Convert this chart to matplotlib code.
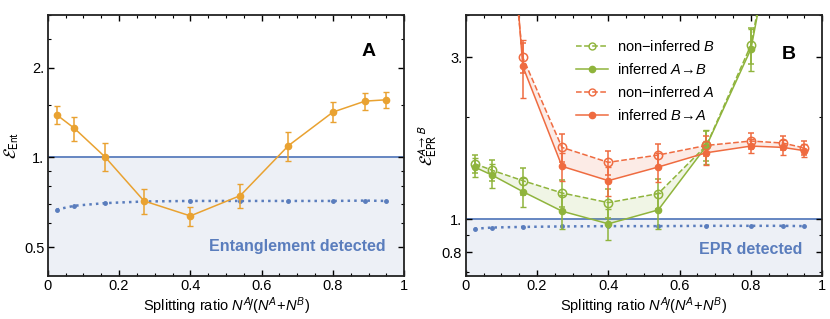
import matplotlib
matplotlib.use("Agg")
import matplotlib.pyplot as plt
from matplotlib.lines import Line2D
from matplotlib.ticker import FixedLocator, FixedFormatter, NullFormatter

plt.rcParams['font.family'] = ['Liberation Sans', 'DejaVu Sans']
plt.rcParams['mathtext.fontset'] = 'custom'
plt.rcParams['mathtext.it'] = 'Liberation Sans:italic'
plt.rcParams['mathtext.rm'] = 'Liberation Sans'

# splitting ratios
x = [0.025, 0.075, 0.16, 0.27, 0.40, 0.54, 0.675, 0.80, 0.89, 0.95]

# panel A: entanglement criterion
ent = [1.389, 1.250, 1.005, 0.714, 0.636, 0.744, 1.094, 1.418, 1.543, 1.559]
ent_err = [0.096, 0.114, 0.108, 0.068, 0.047, 0.067, 0.119, 0.109, 0.097, 0.096]
ent_theory = [0.668, 0.688, 0.702, 0.711, 0.714, 0.714, 0.714, 0.714, 0.716, 0.714]

# panel B: EPR criterion
nonB = [1.458, 1.393, 1.299, 1.195, 1.119, 1.190, 1.650, 3.264, 10.3, 20.0]
nonB_err = [0.09, 0.10, 0.12, 0.11, 0.11, 0.12, 0.17, 0.40, 0, 0]
infAB = [1.425, 1.347, 1.206, 1.056, 0.969, 1.065, 1.643, 3.177, 10.0, 19.0]
infAB_err = [0.09, 0.11, 0.12, 0.12, 0.10, 0.13, 0.19, 0.45, 0, 0]
nonA = [40.0, 22.9, 3.00, 1.628, 1.471, 1.546, 1.650, 1.700, 1.677, 1.621]
nonA_err = [0, 0, 0.30, 0.15, 0.12, 0.12, 0.11, 0.09, 0.08, 0.08]
infBA = [70.0, 41.6, 2.825, 1.432, 1.299, 1.425, 1.570, 1.643, 1.628, 1.592]
infBA_err = [0, 0, 0.55, 0.14, 0.13, 0.14, 0.13, 0.08, 0.08, 0.07]
epr_theory = [0.937, 0.945, 0.949, 0.952, 0.954, 0.954, 0.956, 0.956, 0.956, 0.954]

ORANGE = '#e9a231'
GREEN = '#8fb43c'
RED = '#ef6b40'
BLUE = '#5a7dbd'
SHADE = '#edf0f6'


def style_axes(ax, ylim, majors, labels, minors):
    ax.set_xlim(0, 1)
    ax.set_yscale('log')
    ax.set_ylim(*ylim)
    ax.set_xticks([0, 0.2, 0.4, 0.6, 0.8, 1.0])
    ax.set_xticklabels(['0', '0.2', '0.4', '0.6', '0.8', '1'])
    ax.set_xticks([i * 0.05 for i in range(21)], minor=True)
    ax.yaxis.set_major_locator(FixedLocator(majors))
    ax.yaxis.set_major_formatter(FixedFormatter(labels))
    ax.yaxis.set_minor_locator(FixedLocator(minors))
    ax.yaxis.set_minor_formatter(NullFormatter())
    ax.tick_params(which='both', direction='in', top=True, right=True,
                   labelsize=10.5, pad=2.5)
    ax.tick_params(which='major', length=4, width=1)
    ax.tick_params(which='minor', length=2, width=0.8)
    for s in ax.spines.values():
        s.set_linewidth(1.3)
        s.set_color('#222222')
    ax.set_xlabel('Splitting ratio $N^A\\!/(N^A\\!+\\!N^B)$', fontsize=10.5,
                  labelpad=1.5)


fig = plt.figure(figsize=(8.3, 3.19), dpi=100)
axA = fig.add_axes([0.0575, 0.1348, 0.4296, 0.8182])
axB = fig.add_axes([0.5611, 0.1348, 0.4296, 0.8182])

# ---- panel A ----
axA.axhspan(0.1, 1.0, color=SHADE, zorder=0)
axA.axhline(1.0, color=BLUE, lw=1.3, zorder=1)
axA.plot(x, ent_theory, ':', color=BLUE, lw=1.8, marker='o', ms=2.5, zorder=2)
axA.errorbar(x, ent, yerr=ent_err, color=ORANGE, lw=1.1, marker='o', ms=4.5,
             capsize=2, elinewidth=1.1, zorder=3)
style_axes(axA, (0.4, 3.0), [0.5, 1.0, 2.0], ['0.5', '1.', '2.'],
           [0.6, 0.7, 0.8, 0.9, 1.5, 2.5, 3.0])
axA.set_ylabel(r'$\mathcal{E}_{\mathrm{Ent}}$', fontsize=12, labelpad=2,
               math_fontfamily='stixsans')
axA.text(0.90, 0.86, 'A', transform=axA.transAxes, fontsize=14,
         fontweight='bold', ha='center', va='center')
axA.text(0.70, 0.113, 'Entanglement detected', transform=axA.transAxes,
         color=BLUE, fontsize=11.5, fontweight='bold', ha='center', va='center')

# ---- panel B ----
axB.axhspan(0.1, 1.0, color=SHADE, zorder=0)
axB.axhline(1.0, color=BLUE, lw=1.3, zorder=1)
axB.plot(x, epr_theory, ':', color=BLUE, lw=1.8, marker='o', ms=2.5, zorder=2)
axB.fill_between(x, nonB, infAB, color=GREEN, alpha=0.13, lw=0, zorder=1)
axB.fill_between(x, nonA, infBA, color=RED, alpha=0.13, lw=0, zorder=1)

axB.errorbar(x, nonB, yerr=nonB_err, color=GREEN, ls='--', lw=1.1, marker='o',
             mfc='none', ms=6, mew=1.1, capsize=2, elinewidth=1.1, zorder=3)
axB.errorbar(x, infAB, yerr=infAB_err, color=GREEN, ls='-', lw=1.1, marker='o',
             ms=4.5, capsize=2, elinewidth=1.1, zorder=3)
axB.errorbar(x, nonA, yerr=nonA_err, color=RED, ls='--', lw=1.1, marker='o',
             mfc='none', ms=6, mew=1.1, capsize=2, elinewidth=1.1, zorder=3)
axB.errorbar(x, infBA, yerr=infBA_err, color=RED, ls='-', lw=1.1, marker='o',
             ms=4.5, capsize=2, elinewidth=1.1, zorder=3)
style_axes(axB, (0.68, 4.0), [0.8, 1.0, 3.0], ['0.8', '1.', '3.'],
           [0.7, 0.9, 2.0, 4.0])
axB.set_ylabel(r'$\mathcal{E}_{\mathrm{EPR}}^{A\to B}$', fontsize=12,
               labelpad=2, math_fontfamily='stixsans')
axB.text(0.905, 0.85, 'B', transform=axB.transAxes, fontsize=14,
         fontweight='bold', ha='center', va='center')
axB.text(0.80, 0.10, 'EPR detected', transform=axB.transAxes,
         color=BLUE, fontsize=11.5, fontweight='bold', ha='center', va='center')

handles = [
    Line2D([], [], color=GREEN, ls='--', marker='o', mfc='none', ms=5, lw=1.1),
    Line2D([], [], color=GREEN, ls='-', marker='o', ms=4.5, lw=1.1),
    Line2D([], [], color=RED, ls='--', marker='o', mfc='none', ms=5, lw=1.1),
    Line2D([], [], color=RED, ls='-', marker='o', ms=4.5, lw=1.1),
]
labels = ['non\u2212inferred $B$', r'inferred $A\!\rightarrow\!B$',
          'non\u2212inferred $A$', r'inferred $B\!\rightarrow\!A$']
axB.legend(handles, labels, loc='upper left', bbox_to_anchor=(0.29, 0.935),
           frameon=False, fontsize=10.5, handlelength=2.2, labelspacing=0.55,
           handletextpad=0.6, borderpad=0)

fig.savefig('out.png', dpi=100)
